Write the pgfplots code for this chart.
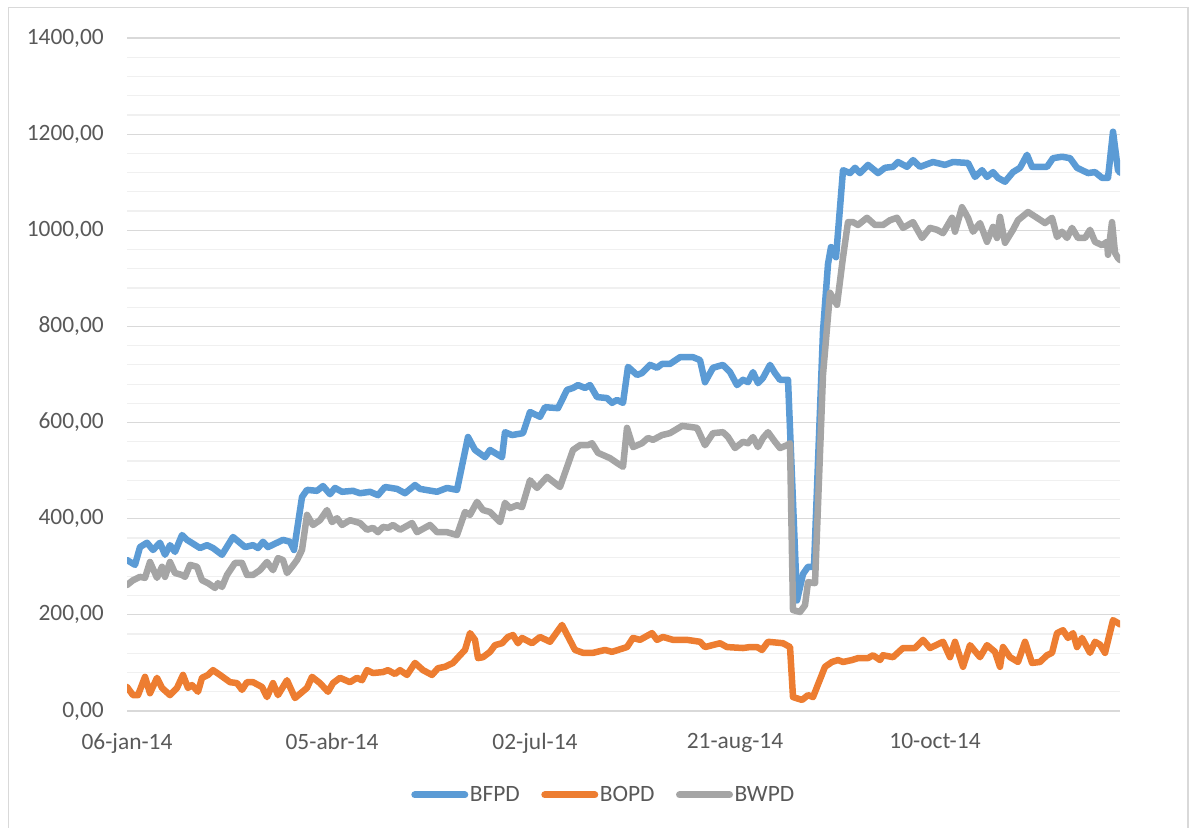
\documentclass[border=0pt]{standalone}
\usepackage{pgfplots}
\pgfplotsset{compat=1.18}
\usepackage{fontspec}
\setmainfont{Carlito}
\definecolor{cblue}{RGB}{91,155,213}
\definecolor{corange}{RGB}{237,125,49}
\definecolor{cgray}{RGB}{165,165,165}
\definecolor{gmaj}{RGB}{217,217,217}
\definecolor{gmin}{RGB}{240,240,240}
\definecolor{ctext}{RGB}{89,89,89}
\begin{document}
\begin{tikzpicture}
\path[use as bounding box] (0,0) rectangle (1195bp,828bp);
\draw[gmaj, line width=1.2bp] (8.5bp,0) -- (8.5bp,820.5bp) -- (1188bp,820.5bp) -- (1188bp,0);
\begin{axis}[
  at={(127bp,117bp)}, anchor=south west,
  scale only axis, width=993bp, height=673bp,
  xmin=127, xmax=1120, ymin=0, ymax=1400,
  axis line style={draw=none},
  major tick length=0, minor tick length=0,
  ytick={0,200,...,1400}, minor y tick num=4,
  ymajorgrids, yminorgrids,
  major grid style={gmaj, line width=1.2bp},
  minor grid style={gmin, line width=1.2bp},
  xtick={127,332,535,735,935},
  xticklabels={06-jan-14,05-abr-14,02-jul-14,21-aug-14,10-oct-14},
  /pgf/number format/.cd, fixed, fixed zerofill, precision=2, use comma, 1000 sep={}, assume math mode=true,
  /pgfplots/.cd,
  tick label style={font=\fontsize{23.5}{28}\selectfont, text=ctext},
  yticklabel style={anchor=east, inner sep=0pt, xshift=-23bp},
  xticklabel style={anchor=north, inner sep=0pt, yshift=-22bp},
  legend style={at={(0.4799,-0.1248)}, anchor=center, draw=none, fill=none,
    font=\fontsize{23.5}{28}\selectfont, text=ctext,
    legend columns=3, nodes={inner sep=1.5bp},
    /tikz/every even column/.append style={column sep=20bp}},
  legend image code/.code={\draw[line width=7bp, line cap=round, #1] (3.5bp,0) -- (53.5bp,0);},
  every axis plot/.append style={line width=6.5bp, line join=round, line cap=round, mark=none},
]
\addplot[cblue] coordinates {
(127,314)(135,304)(140,341)(147,350)(153,335)(160,350)(165,325)(170,345)(175,331)(182,366)
(187,356)(200,339)(207,345)(213,339)(222,325)(233,362)(245,341)(253,345)(258,339)(263,352)
(268,341)(277,350)(283,356)(290,352)(294,335)(302,445)(307,460)(317,458)(323,468)(330,451)
(335,464)(342,456)(353,458)(360,453)(370,456)(378,449)(385,466)(397,462)(405,453)(415,470)
(420,462)(437,456)(447,464)(457,460)(468,570)(475,543)(485,528)(490,543)(502,528)(505,580)
(512,574)(523,578)(530,622)(540,612)(545,632)(558,630)(567,668)(573,672)(578,678)(585,672)
(590,678)(597,653)(607,651)(612,641)(617,647)(623,641)(628,716)(637,699)(642,703)(650,720)
(657,714)(662,722)(670,722)(680,736)(687,736)(693,736)(700,730)(705,684)(713,714)(723,720)
(730,705)(737,678)(743,689)(748,684)(753,705)(758,682)(763,693)(770,720)(775,703)(780,689)
(788,689)(797,230)(803,285)(808,300)(814,300)(823,790)(828,930)(831,965)(836,944)
(843,1125)(850,1119)(855,1130)(860,1119)(868,1136)(878,1119)(885,1130)(893,1132)(898,1142)(907,1132)
(913,1146)(920,1132)(933,1142)(945,1136)(953,1142)(968,1140)(975,1111)(982,1125)(987,1111)(993,1121)
(998,1109)(1005,1101)(1013,1121)(1020,1130)(1027,1157)(1032,1132)(1047,1132)(1053,1150)(1062,1153)(1070,1150)
(1077,1130)(1082,1125)(1088,1119)(1095,1121)(1102,1109)(1108,1109)(1113,1205)(1118,1125)(1120,1120)
};
\addlegendentry{BFPD}
\addplot[corange] coordinates {
(127,50)(133,33)(138,33)(145,71)(150,37)(157,69)(162,48)(170,33)(177,48)(183,75)
(188,48)(192,54)(198,40)(202,69)(208,75)(213,85)(220,75)(230,60)(237,58)(242,44)
(247,60)(253,60)(262,50)(267,29)(273,58)(278,33)(287,64)(295,27)(307,48)(312,71)
(320,58)(328,40)(333,58)(340,69)(350,60)(357,69)(362,64)(367,85)(373,79)(383,81)
(388,85)(395,77)(400,85)(407,75)(415,100)(423,85)(432,75)(438,89)(445,92)(453,100)
(460,116)(465,127)(470,162)(475,148)(478,110)(483,112)(490,123)(495,137)(502,141)(508,154)
(513,158)(518,141)(522,152)(532,141)(540,154)(550,144)(562,179)(575,127)(583,121)(593,121)
(605,127)(612,123)(627,133)(633,152)(640,148)(652,162)(657,148)(663,154)(673,148)(687,148)
(700,144)(705,133)(720,141)(727,133)(743,131)(750,133)(757,133)(762,127)(768,144)(783,141)
(790,133)(793,29)(802,23)(808,33)(813,29)(825,92)(832,102)(838,106)(843,102)(852,106)
(858,110)(868,110)(873,116)(880,106)(883,116)(893,112)(903,131)(915,131)(923,148)(930,131)
(943,144)(950,112)(955,144)(963,92)(970,137)(980,112)(987,137)(995,123)(1000,92)(1003,133)
(1010,112)(1018,102)(1025,144)(1032,100)(1040,102)(1047,116)(1052,121)(1057,162)(1063,168)(1068,152)
(1073,162)(1077,133)(1082,152)(1090,121)(1095,144)(1100,138)(1105,121)(1113,189)(1118,183)(1120,180)
};
\addlegendentry{BOPD}
\addplot[cgray] coordinates {
(127,262)(133,272)(140,279)(145,277)(150,310)(157,277)(162,300)(165,279)(170,310)(175,287)
(182,283)(185,279)(190,304)(197,300)(202,272)(208,266)(215,256)(218,266)(222,258)(227,283)
(235,308)(242,308)(247,283)(253,283)(260,293)(267,310)(273,293)(278,318)(283,314)(287,287)
(292,300)(297,314)(302,335)(307,408)(313,387)(320,397)(327,418)(332,393)(337,401)(342,387)
(350,397)(360,391)(367,377)(373,381)(378,372)(383,383)(388,381)(393,387)(400,377)(412,391)
(417,372)(430,387)(437,372)(447,372)(457,366)(465,414)(470,408)(477,435)(483,418)(490,414)
(500,393)(505,433)(510,422)(517,428)(522,424)(530,480)(537,464)(547,487)(560,466)(573,543)
(580,553)(588,553)(592,557)(598,537)(610,526)(617,516)(623,508)(627,589)(633,549)(642,557)
(648,568)(653,564)(662,574)(670,578)(682,593)(690,591)(697,589)(705,553)(713,578)(723,580)
(728,570)(735,547)(743,560)(748,557)(753,570)(758,549)(763,568)(768,580)(775,560)(780,547)
(787,553)(790,557)(793,210)(800,206)(805,220)(808,268)(815,266)(823,700)(830,870)(837,845)
(843,944)(848,1017)(853,1017)(858,1011)(867,1026)(875,1011)(883,1011)(890,1021)(897,1026)(903,1005)
(913,1017)(922,984)(930,1005)(937,1001)(943,994)(952,1026)(955,997)(962,1048)(968,1026)(973,997)
(980,1015)(987,976)(993,1007)(997,984)(1000,1028)(1005,974)(1013,1001)(1018,1021)(1028,1038)(1037,1026)
(1045,1015)(1052,1026)(1057,986)(1062,997)(1067,984)(1072,1005)(1078,984)(1085,984)(1090,1001)(1095,976)
(1102,969)(1107,976)(1108,949)(1112,1017)(1115,953)(1118,942)(1120,938)
};
\addlegendentry{BWPD}
\end{axis}
\end{tikzpicture}
\end{document}
